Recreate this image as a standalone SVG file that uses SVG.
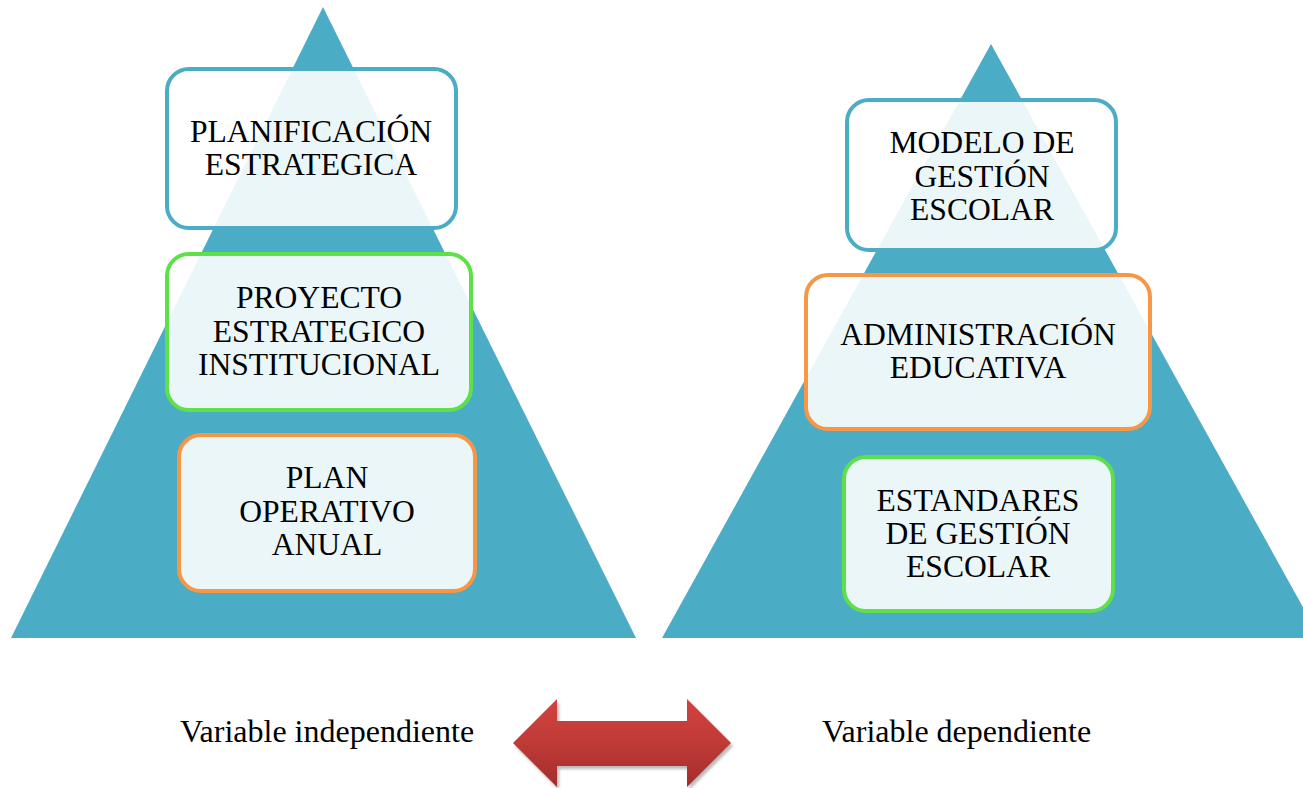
<svg xmlns="http://www.w3.org/2000/svg" width="1303" height="788" viewBox="0 0 1303 788">
  <style>
    .tri { fill: #4BACC6; }
    .box { fill: #FFFFFF; fill-opacity: 0.89; stroke-width: 4; }
    .blue { stroke: #4BACC6; }
    .green { stroke: #5EE04A; }
    .orange { stroke: #F79646; }
    .lbl { font-family: "Liberation Serif", "Times New Roman", serif; font-size: 31.6px; fill: #000; text-anchor: middle; }
    .cap { font-family: "Liberation Serif", "Times New Roman", serif; font-size: 32px; fill: #000; }
  </style>
  <defs>
    <linearGradient id="redGrad" x1="0" y1="0" x2="0" y2="1">
      <stop offset="0" stop-color="#D0433F"/>
      <stop offset="0.5" stop-color="#C03A37"/>
      <stop offset="1" stop-color="#A22D2B"/>
    </linearGradient>
    <filter id="blur" x="-10%" y="-10%" width="120%" height="130%">
      <feGaussianBlur stdDeviation="1.5"/>
    </filter>
  </defs>
  <rect width="1303" height="788" fill="#FFFFFF"/>

  <g id="pyramid-left">
    <polygon class="tri" points="323,7 636,638 11,638"/>
  </g>
  <g id="pyramid-right">
    <polygon class="tri" points="991,44 1320,638 662,638"/>
  </g>

  <g id="node-planificacion">
    <rect class="box blue" x="167" y="69" width="289" height="159" rx="22"/>
    <text class="lbl" x="311" y="142">PLANIFICACIÓN</text>
    <text class="lbl" x="311" y="175">ESTRATEGICA</text>
  </g>
  <g id="node-proyecto">
    <rect class="box green" x="167" y="254" width="304" height="156" rx="22"/>
    <text class="lbl" x="319" y="308">PROYECTO</text>
    <text class="lbl" x="319" y="342">ESTRATEGICO</text>
    <text class="lbl" x="319" y="375">INSTITUCIONAL</text>
  </g>
  <g id="node-plan">
    <rect class="box orange" x="179" y="435" width="296" height="156" rx="22"/>
    <text class="lbl" x="327" y="488">PLAN</text>
    <text class="lbl" x="327" y="522">OPERATIVO</text>
    <text class="lbl" x="327" y="555">ANUAL</text>
  </g>

  <g id="node-modelo">
    <rect class="box blue" x="847" y="100" width="269" height="150" rx="22"/>
    <text class="lbl" x="982" y="153">MODELO DE</text>
    <text class="lbl" x="982" y="187">GESTIÓN</text>
    <text class="lbl" x="982" y="220">ESCOLAR</text>
  </g>
  <g id="node-administracion">
    <rect class="box orange" x="806" y="275" width="344" height="154" rx="22"/>
    <text class="lbl" x="978" y="345">ADMINISTRACIÓN</text>
    <text class="lbl" x="978" y="378">EDUCATIVA</text>
  </g>
  <g id="node-estandares">
    <rect class="box green" x="844" y="457" width="269" height="154" rx="22"/>
    <text class="lbl" x="978" y="511">ESTANDARES</text>
    <text class="lbl" x="978" y="544">DE GESTIÓN</text>
    <text class="lbl" x="978" y="577">ESCOLAR</text>
  </g>

  <g id="connectors">
    <polygon points="515,746 559,702 559,724 689,724 689,702 733,746 689,790 689,769 559,769 559,790" fill="#8A8A8A" opacity="0.6" filter="url(#blur)"/>
    <polygon points="513,743 557,699 557,721 687,721 687,699 731,743 687,787 687,766 557,766 557,787" fill="url(#redGrad)"/>
  </g>

  <g id="captions">
    <text class="cap" x="180" y="742">Variable independiente</text>
    <text class="cap" x="822" y="742">Variable dependiente</text>
  </g>
</svg>
